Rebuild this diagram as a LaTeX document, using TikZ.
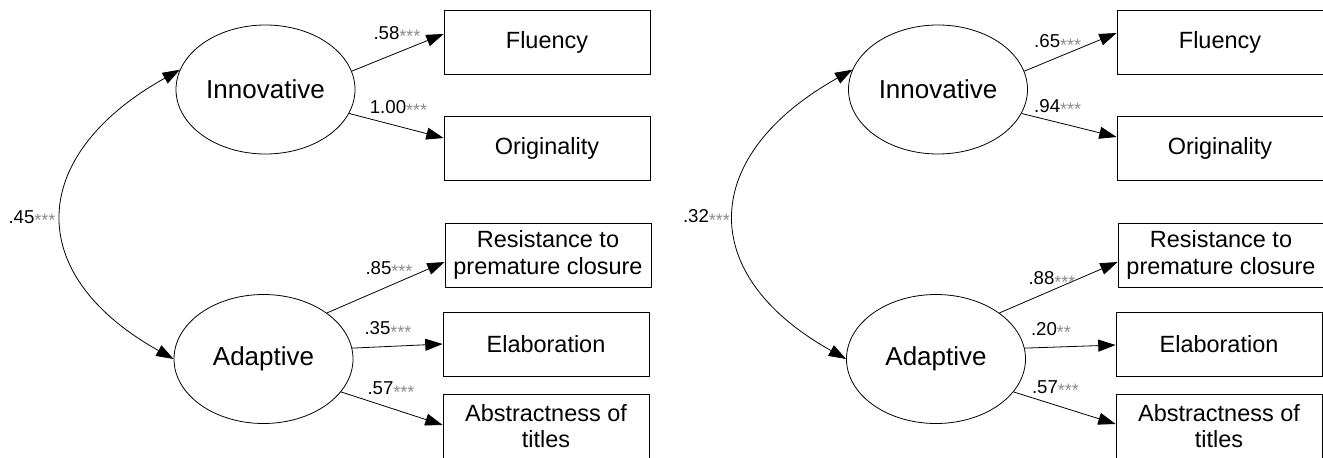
\documentclass[tikz,border=0pt]{standalone}
\usepackage{fontspec}
\setmainfont{Liberation Sans}
\usetikzlibrary{arrows.meta,shapes.geometric,calc}
\newcommand{\sigst}[1]{\textcolor{black!45}{\fontsize{13.5pt}{13.5pt}\selectfont\raisebox{-2.4pt}{#1}}}
\tikzset{
  lat/.style={ellipse,draw,line width=0.6pt,minimum width=134.25pt,minimum height=96.75pt,inner sep=0pt,font=\fontsize{19.5pt}{23pt}\selectfont},
  obs/.style={rectangle,draw,line width=0.6pt,minimum width=154.5pt,minimum height=48pt,inner sep=2pt,align=center,font=\fontsize{17.6pt}{20pt}\selectfont},
  lbl/.style={inner sep=0pt,font=\fontsize{14pt}{16pt}\selectfont},
  arr/.style={line width=0.6pt,-{Triangle[length=13pt,width=9pt]}},
  cov/.style={line width=0.6pt,{Triangle[length=13pt,width=9pt]}-{Triangle[length=13pt,width=9pt]}},
}
\begin{document}
\begin{tikzpicture}[x=0.75pt,y=-0.75pt]
\useasboundingbox (0,0) rectangle (1323,457);
% ---------- left panel ----------
\node[lat] (inn1) at (265.5,89.5) {Innovative};
\node[lat] (ada1) at (263.5,359) {Adaptive};
\node[obs] (flu1) at (547,42) {Fluency};
\node[obs] (ori1) at (547,148.5) {Originality};
\node[obs] (res1) at (548,255) {Resistance to\\premature closure};
\node[obs] (ela1) at (546,344) {Elaboration};
\node[obs] (abs1) at (546,426) {Abstractness of\\titles};
\draw[arr] (inn1.12.6) -- ($(flu1.west)+(0,-8)$);
\draw[arr] (inn1.-16) -- ($(ori1.west)+(0,-10.5)$);
\draw[arr] (ada1.36.5) -- ($(res1.west)+(0,7)$);
\draw[arr] (ada1.7) -- (ela1.west);
\draw[arr] (ada1.-23.7) -- ($(abs1.west)+(0,-1)$);
\draw[cov] (inn1.167) .. controls +(-152,85) and +(-152,-85) .. (ada1.180);
\node[lbl] (l11) at (397,34.5) {.58\sigst{***}};
\node[lbl] (l12) at (398.5,108.5) {1.00\sigst{***}};
\node[lbl] (l13) at (389,269.5) {.85\sigst{***}};
\node[lbl] (l14) at (388,330) {.35\sigst{***}};
\node[lbl] (l15) at (391,390) {.57\sigst{***}};
\node[lbl] (l16) at (32,218.5) {.45\sigst{***}};
% ---------- right panel ----------
\node[lat] (inn2) at (938,89.5) {Innovative};
\node[lat] (ada2) at (936,359) {Adaptive};
\node[obs] (flu2) at (1220,42) {Fluency};
\node[obs] (ori2) at (1220,148.5) {Originality};
\node[obs] (res2) at (1221,255) {Resistance to\\premature closure};
\node[obs] (ela2) at (1219,344) {Elaboration};
\node[obs] (abs2) at (1219,426) {Abstractness of\\titles};
\draw[arr] (inn2.12.5) -- ($(flu2.west)+(0,-9)$);
\draw[arr] (inn2.-16.3) -- ($(ori2.west)+(0,-11.5)$);
\draw[arr] (ada2.36) -- ($(res2.west)+(0,7)$);
\draw[arr] (ada2.7) -- ($(ela2.west)+(0,1)$);
\draw[arr] (ada2.-23.4) -- ($(abs2.west)+(0,-2)$);
\draw[cov] (inn2.167) .. controls +(-152,85) and +(-152,-85) .. (ada2.180);
\node[lbl] (l21) at (1057.7,43) {.65\sigst{***}};
\node[lbl] (l22) at (1057.7,107.5) {.94\sigst{***}};
\node[lbl] (l23) at (1052,280) {.88\sigst{***}};
\node[lbl] (l24) at (1051,330.5) {.20\sigst{**}};
\node[lbl] (l25) at (1055.5,388.5) {.57\sigst{***}};
\node[lbl] (l26) at (706.5,218) {.32\sigst{***}};
\end{tikzpicture}
\end{document}
